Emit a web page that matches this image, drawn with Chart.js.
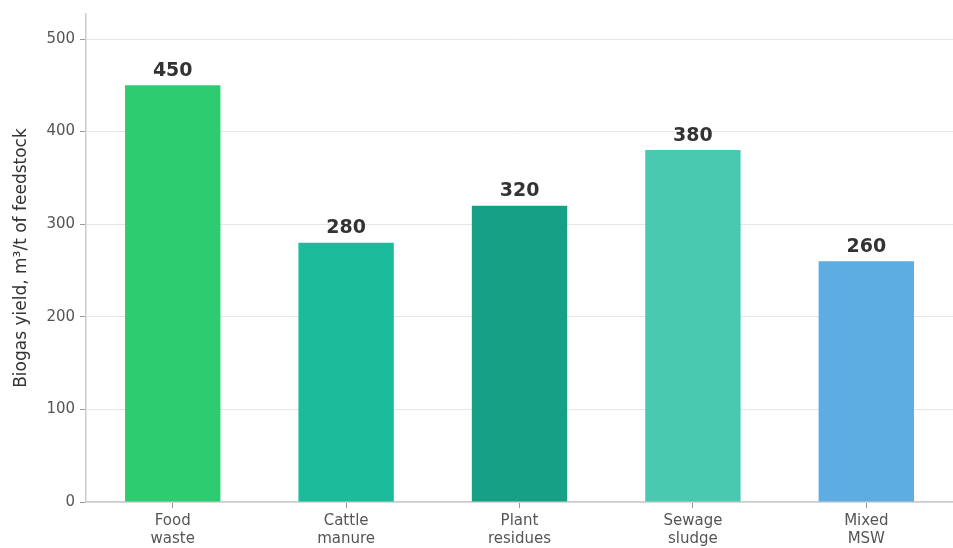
<!DOCTYPE html>
<html><head><meta charset="utf-8">
<script src="https://cdn.jsdelivr.net/npm/chart.js@4/dist/chart.umd.min.js"></script>
<style>html,body{margin:0;padding:0;background:#fff}#wrap{width:953px;height:548px}</style>
</head><body><div id="wrap"><canvas id="c"></canvas></div>
<script>
const categories = [["Food","waste"],["Cattle","manure"],["Plant","residues"],["Sewage","sludge"],["Mixed","MSW"]];
const yields = [450, 280, 320, 380, 260];
const barColors = ["#2ecc71","#1abc9c","#16a085","#48c9b0","#5dade2"];
const yTicks = [0,100,200,300,400,500];

const valueLabels = {
  id:'valueLabels',
  afterDatasetsDraw(chart){
    const ctx = chart.ctx;
    const meta = chart.getDatasetMeta(0);
    ctx.save();
    ctx.font = 'bold 19px "DejaVu Sans"';
    ctx.fillStyle = '#333';
    ctx.textAlign = 'center';
    ctx.textBaseline = 'bottom';
    meta.data.forEach((bar,i)=>{
      ctx.fillText(String(yields[i]), bar.x, bar.y - 5);
    });
    ctx.restore();
  }
};

new Chart(document.getElementById('c'), {
  type:'bar',
  data:{labels:categories, datasets:[{data:yields, backgroundColor:barColors, borderWidth:0, categoryPercentage:1, barPercentage:0.55}]},
  options:{
    responsive:true, maintainAspectRatio:false, animation:false,
    layout:{padding:{top:12,right:0,left:11,bottom:-4}},
    plugins:{legend:{display:false}, tooltip:{enabled:false}},
    scales:{
      x:{
        offset:true,
        grid:{offset:false, drawOnChartArea:false, tickLength:6, tickColor:'#999'},
        border:{color:'#ccc', width:1.5},
        ticks:{font:{family:'DejaVu Sans', size:15, lineHeight:1.2}, color:'#555', padding:4, maxRotation:0}
      },
      y:{
        min:0, max:527,
        afterBuildTicks(scale){ scale.ticks = yTicks.map(v=>({value:v})); },
        grid:{color:'#e6e6e6', tickLength:6, tickColor:'#999'},
        border:{color:'#ccc', width:1.5},
        ticks:{font:{family:'DejaVu Sans', size:15}, color:'#555', padding:5},
        title:{display:true, text:'Biogas yield, m³/t of feedstock', font:{family:'DejaVu Sans', size:17}, color:'#333', padding:{top:0,bottom:10}}
      }
    }
  },
  plugins:[valueLabels]
});
</script></body></html>
